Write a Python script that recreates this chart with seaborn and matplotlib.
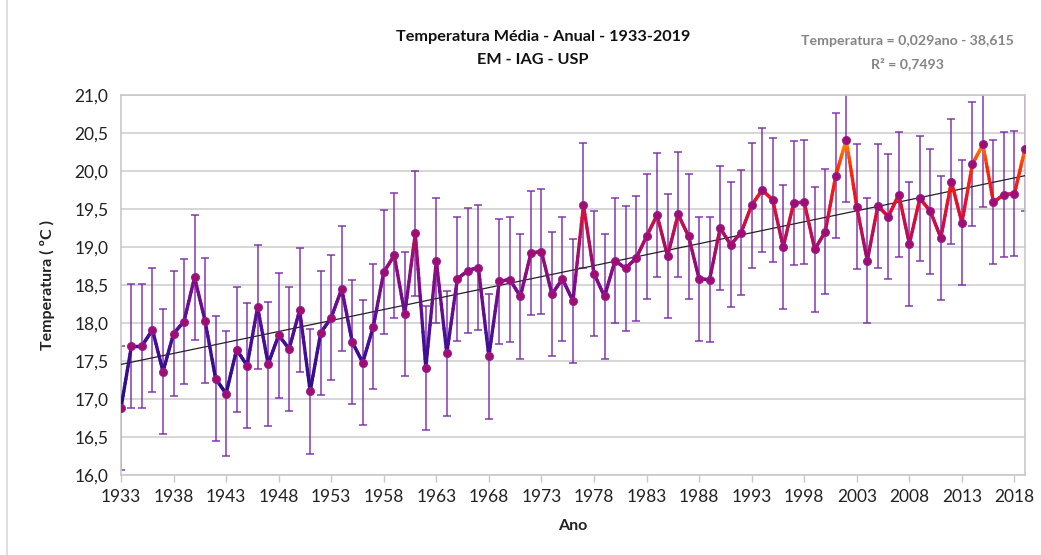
import numpy as np
import pandas as pd
import matplotlib
matplotlib.use("Agg")
import matplotlib.pyplot as plt
import seaborn as sns
from matplotlib.collections import LineCollection
from matplotlib.colors import LinearSegmentedColormap
from matplotlib.lines import Line2D

# annual mean temperature, EM - IAG - USP
years = list(range(1933, 2020))
temps = [
    16.88, 17.70, 17.70, 17.91, 17.36, 17.86, 18.02, 18.60, 18.03, 17.27,
    17.07, 17.65, 17.44, 18.21, 17.46, 17.84, 17.66, 18.17, 17.10, 17.87,
    18.07, 18.45, 17.75, 17.48, 17.95, 18.67, 18.89, 18.12, 19.18, 17.41,
    18.82, 17.60, 18.58, 18.69, 18.73, 17.56, 18.55, 18.57, 18.35, 18.92,
    18.94, 18.38, 18.58, 18.29, 19.55, 18.65, 18.35, 18.82, 18.72, 18.85,
    19.14, 19.42, 18.88, 19.43, 19.14, 18.58, 18.57, 19.25, 19.03, 19.19,
    19.55, 19.75, 19.62, 19.00, 19.58, 19.59, 18.97, 19.20, 19.94, 20.41,
    19.53, 18.82, 19.54, 19.40, 19.69, 19.04, 19.64, 19.47, 19.12, 19.86,
    19.32, 20.09, 20.35, 19.59, 19.69, 19.70, 20.29,
]
err = 0.82  # constant error bar half-width
xticks = list(range(1933, 2019, 5))
yticks = [16.0, 16.5, 17.0, 17.5, 18.0, 18.5, 19.0, 19.5, 20.0, 20.5, 21.0]

df = pd.DataFrame({"ano": years, "temp": temps})

sns.set_theme(style="white")
plt.rcParams["font.family"] = ["Lato", "DejaVu Sans"]

fig = plt.figure(figsize=(10.41, 5.55), dpi=100)
ax = fig.add_axes([0.1162, 0.1441, 0.8684, 0.6847])

for y in yticks:
    ax.axhline(y, color="#d0d0d0", lw=1.2, zorder=0)

# error bars
ax.errorbar(df["ano"], df["temp"], yerr=err, fmt="none", ecolor="#7b2aa8",
            elinewidth=1.2, capsize=2.8, capthick=1.2, alpha=0.85, zorder=2)

# trend line
sns.regplot(data=df, x="ano", y="temp", scatter=False, ci=None, ax=ax,
            line_kws={"color": "#222222", "lw": 0.9, "zorder": 3})

# gradient-coloured line (colour follows the temperature)
cmap = LinearSegmentedColormap.from_list("temp", [
    (0.00, "#280c88"), (0.25, "#4a0f98"), (0.45, "#820c88"),
    (0.60, "#ae0e62"), (0.74, "#e2102f"), (0.88, "#ff2a05"), (1.00, "#ff9a00"),
])
segs, vals = [], []
for i in range(len(years) - 1):
    t = np.linspace(0, 1, 16)
    xx = years[i] + t * (years[i + 1] - years[i])
    yy = temps[i] + t * (temps[i + 1] - temps[i])
    pts = np.column_stack([xx, yy])
    for j in range(len(pts) - 1):
        segs.append(pts[j:j + 2])
        vals.append((yy[j] + yy[j + 1]) / 2)
lc = LineCollection(segs, cmap=cmap, norm=plt.Normalize(17.0, 20.45),
                    linewidths=2.4, capstyle="round", zorder=4)
lc.set_array(np.array(vals))
ax.add_collection(lc)

sns.scatterplot(data=df, x="ano", y="temp", ax=ax, s=34, color="#a30d70",
                edgecolor="#8a1f9e", linewidth=0.6, zorder=5)

ax.set_xlim(1933, 2019)
ax.set_ylim(16.0, 21.0)
ax.set_xticks(xticks)
ax.set_yticks(yticks)
ax.set_yticklabels([f"{v:.1f}".replace(".", ",") for v in yticks])
ax.tick_params(axis="x", which="both", bottom=True, length=5, width=1,
               color="#c8c8c8", labelsize=12.5, pad=5, labelcolor="#222222")
ax.tick_params(axis="y", length=0, labelsize=12.5, pad=9, labelcolor="#222222")
for s in ax.spines.values():
    s.set_color("#c8c8c8")
    s.set_linewidth(1.2)

ax.set_xlabel("Ano", fontsize=11.5, fontweight="bold", labelpad=10, color="#222222")
ax.set_ylabel("Temperatura ( ºC )", fontsize=11.5, fontweight="bold",
              labelpad=14, color="#222222")

fig.text(0.522, 0.933, "Temperatura Média - Anual - 1933-2019", ha="center",
         va="center", fontsize=11.7, fontweight="bold", color="#111111")
fig.text(0.512, 0.891, "EM - IAG - USP", ha="center", va="center",
         fontsize=11.7, fontweight="bold", color="#111111")
fig.text(0.872, 0.927, "Temperatura = 0,029ano - 38,615", ha="center",
         va="center", fontsize=10.2, fontweight="bold", color="#858585")
fig.text(0.872, 0.886, "R² = 0,7493", ha="center", va="center",
         fontsize=10.2, fontweight="bold", color="#858585")

fig.add_artist(Line2D([7 / 1041, 7 / 1041], [0, 1], color="#d8d8d8", lw=1.2))

fig.savefig("out.png", dpi=100)
